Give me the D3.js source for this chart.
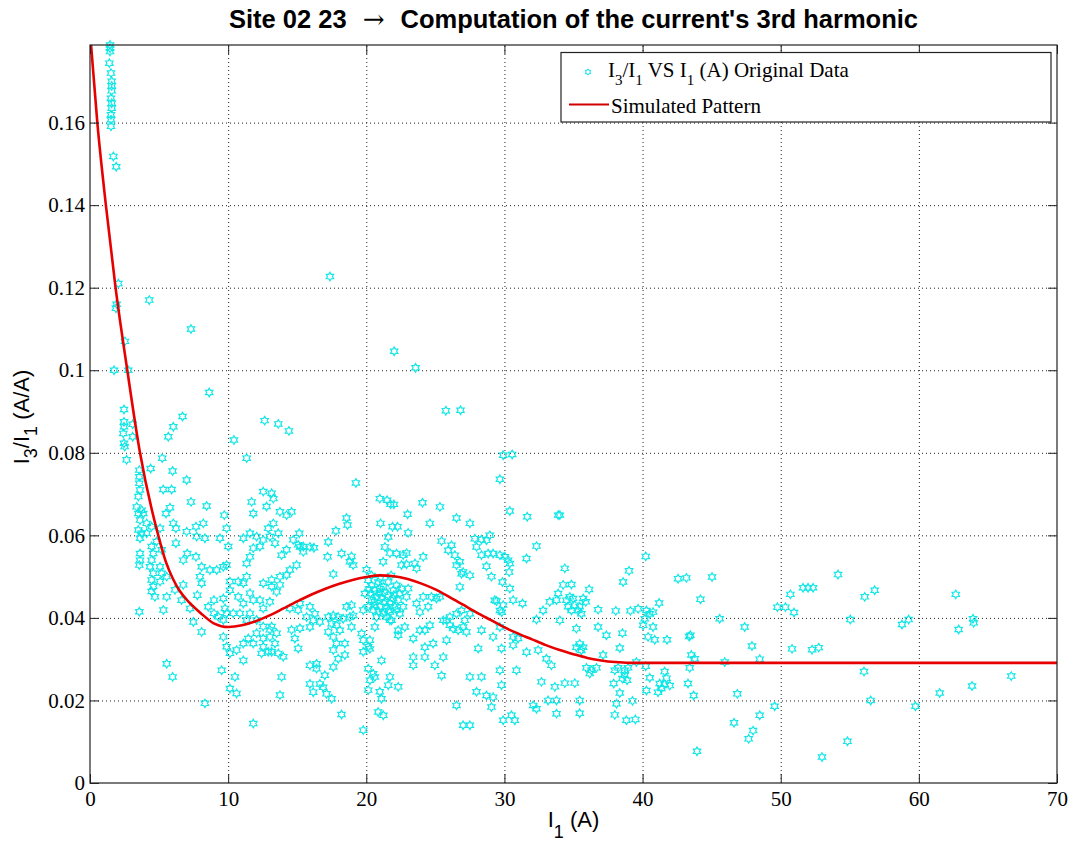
<!DOCTYPE html>
<html>
<head>
<meta charset="utf-8">
<script src="https://cdn.jsdelivr.net/npm/d3@7"></script>
<style>
  body { margin: 0; background: #fff; }
  .tick text { font-family: "Liberation Serif", "Times New Roman", serif; font-size: 21px; fill: #000; }
  .grid line { stroke: #222; stroke-dasharray: 1, 3; }
  .grid path { display: none; }
</style>
</head>
<body>
<script>
'use strict';

var margin = { top: 45, right: 14, bottom: 58, left: 90 },
  width = 1071 - margin.left - margin.right,
  height = 841 - margin.top - margin.bottom;

// axis ticks
var xTicks = [0, 10, 20, 30, 40, 50, 60, 70];
var yTicks = [0, 0.02, 0.04, 0.06, 0.08, 0.1, 0.12, 0.14, 0.16];

// simulated pattern
var patternI1 = [0, 0.53, 1.15, 1.85, 2.7, 3.62, 4.94, 5.5, 6, 6.5, 7.2, 8, 9, 9.5, 10, 11, 12, 13, 14, 15, 16, 17, 18, 19, 20, 21, 22, 23, 24, 25, 26, 27, 28, 29, 30, 31, 32, 33, 34, 35, 36, 37, 38, 39, 40, 55, 70];
var patternRatio = [0.182, 0.16, 0.14, 0.12, 0.1, 0.08, 0.06, 0.0535, 0.0495, 0.0465, 0.0437, 0.0412, 0.0386, 0.038, 0.0378, 0.0382, 0.0392, 0.0406, 0.0423, 0.044, 0.0456, 0.047, 0.0482, 0.0492, 0.0499, 0.0503, 0.0501, 0.0494, 0.0483, 0.0469, 0.0451, 0.0432, 0.0413, 0.0395, 0.0377, 0.0362, 0.0348, 0.0334, 0.0322, 0.0312, 0.0303, 0.0297, 0.0293, 0.0291, 0.0291, 0.0291, 0.0291];

// original data [I1, I3/I1], grouped by region of the plot
var dataTop = [[1.45,0.1788],[1.45,0.178],[1.45,0.1772],[1.40,0.1744],[1.52,0.172],[1.57,0.170],[1.57,0.1689],[1.57,0.1677],[1.52,0.1659],[1.57,0.1647],[1.57,0.1635],[1.52,0.1619],[1.52,0.1607],[1.52,0.1591],[1.69,0.1518],[1.90,0.1493],[2.05,0.121],[1.93,0.116],[1.88,0.115],[4.29,0.117],[7.31,0.110],[2.53,0.107],[1.74,0.100],[2.77,0.100],[8.63,0.0946],[6.7,0.0888],[17.37,0.1227],[22.02,0.1046],[23.57,0.1006],[25.76,0.0902],[26.82,0.0903],[29.91,0.0794],[30.56,0.0796],[29.67,0.0736]];

var dataLow = [[2.46,0.0905],[2.46,0.0875],[2.46,0.0863],[2.41,0.0847],[2.46,0.0823],[2.51,0.0815],[3.09,0.0869],[3.09,0.0839],[6.03,0.0863],[5.67,0.0839],[10.42,0.0831],[12.64,0.0878],[13.63,0.087],[14.4,0.0853],[2.65,0.0783],[11.34,0.0787],[5.23,0.0787],[4.39,0.0762],[5.98,0.0756],
  [3.57,0.0758],[3.57,0.0742],[3.57,0.0726],[3.62,0.0710],[3.5,0.0694],[7.0,0.0734],[5.3,0.0711],[5.91,0.0711],[3.38,0.0669],[3.5,0.0653],[3.62,0.0637],[3.74,0.0661],[7.31,0.0681],[8.44,0.0671],[5.79,0.0667],[5.5,0.0653],[3.86,0.0653],[4.1,0.0629],[9.72,0.0649],
  [3.5,0.0613],[3.74,0.0605],[3.62,0.0593],[4.1,0.0605],[4.46,0.0621],[5.07,0.0617],[6.03,0.0629],[6.22,0.0617],[7.0,0.0609],[7.67,0.0621],[8.2,0.0629],[7.72,0.0597],[8.32,0.0593],[9.89,0.0617],[9.41,0.0593],[10.01,0.0573],
  [3.62,0.0556],[3.62,0.054],[3.57,0.0528],[4.46,0.0573],[4.58,0.0556],[4.46,0.054],[4.34,0.0524],[4.58,0.0508],[4.46,0.0492],[4.58,0.0476],[4.46,0.0464],[4.7,0.0451],[4.82,0.0585],[5.19,0.0565],[5.07,0.0524],[5.19,0.0508],[5.07,0.0488],[5.55,0.05],[6.22,0.0581],[6.75,0.054],[7.04,0.0556],[7.67,0.0548],
  [8.08,0.0524],[8.68,0.0516],[9.17,0.0516],[9.65,0.0524],[9.89,0.0528],[7.96,0.05],[8.08,0.0484],[6.15,0.0468],[6.75,0.048],[5.55,0.0451],[5.31,0.0419],[3.57,0.0415],[6.63,0.0443],[7.24,0.0423],[7.48,0.039],[7.77,0.0455],[8.08,0.0366],[8.56,0.0427],[8.97,0.0443],[8.97,0.0411],[9.29,0.0403],
  [9.65,0.0447],[9.77,0.0423],[9.89,0.0411],[9.65,0.0395],[10.13,0.0467],[10.13,0.0488],[10.73,0.0488],[11.1,0.0484],[11.34,0.05],[10.73,0.0451],[11.1,0.0435],[11.58,0.046],[11.82,0.0443],[10.37,0.0411],[10.85,0.0411],[11.34,0.0395],
  [9.65,0.0354],[9.89,0.0330],[10.13,0.0314],[10.61,0.0322],[11.1,0.0297],[9.53,0.0273],[10.49,0.0257],[10.61,0.0217],[10.13,0.0229],[5.55,0.0289],[5.98,0.0257],[8.32,0.0193],[11.82,0.0144],
  [11.58,0.0411],[12.06,0.0395],[12.54,0.0379],[13.02,0.0371],[12.06,0.0363],[12.54,0.0350],[13.02,0.0354],[13.39,0.0338],[13.51,0.0363],[11.82,0.0338],[12.54,0.033],[12.9,0.0318],[13.15,0.0379],[12.42,0.0314],[13.15,0.0318],[13.63,0.0314],[13.99,0.0306],[11.46,0.035],[11.1,0.0338],
  [12.3,0.0443],[12.54,0.0423],[13.02,0.0439],[13.51,0.0463],[13.15,0.0492],[13.75,0.048],[12.54,0.0484],[13.15,0.0476],[13.75,0.05],[14.23,0.0504],[14.47,0.0423],[15.07,0.0419],[14.59,0.0371],[15.2,0.0375],[14.83,0.035],[15.07,0.0326],[13.87,0.0257],[13.75,0.0213],
  [11.7,0.0681],[11.82,0.0653],[12.54,0.0706],[13.15,0.0702],[12.78,0.067],[13.27,0.0689],[13.75,0.0657],[14.23,0.0649],[14.59,0.0657],[11.1,0.0593],[11.58,0.0605],[12.06,0.0597],[12.54,0.0589],[13.02,0.0597],[13.39,0.0581],[12.3,0.0573],[11.82,0.0569],[11.58,0.0548],[13.27,0.0629],[12.9,0.0617],[13.63,0.0605],[13.87,0.0552],[14.23,0.0565],[14.47,0.0516],[14.95,0.0528],[14.71,0.0589],[15.07,0.0577],[15.44,0.0573],[15.15,0.0605],[11.34,0.0532]];

var dataMid = [[19.25,0.0727],[20.98,0.0689],[21.51,0.0685],[21.76,0.0675],[22.0,0.0675],[24.07,0.0679],[25.33,0.0669],[18.57,0.0642],[18.64,0.0625],[22.99,0.0651],[26.53,0.0642],[27.5,0.0629],[21.03,0.0629],[24.6,0.0629],[30.39,0.0659],[31.65,0.0645],[33.89,0.0649],[17.8,0.0611],[17.25,0.0584],[15.2,0.0572],[15.44,0.056],[15.92,0.0572],[16.21,0.057],[21.9,0.0621],[22.26,0.0621],[23.03,0.0606],[21.59,0.0596],
  [21.35,0.0572],[21.71,0.0557],[22.19,0.0556],[22.67,0.0552],[22.91,0.0557],[22.55,0.0528],[22.91,0.0530],[21.22,0.0536],[17.2,0.0548],[18.21,0.0556],[18.93,0.0549],[19.05,0.0528],[18.81,0.0536],[20.02,0.0517],[17.61,0.0506],[23.52,0.0532],[23.64,0.052],[24.12,0.0548],[25.45,0.0586],[26.17,0.0576],[25.93,0.0564],[26.41,0.0552],[26.77,0.0536],[27.01,0.0511],[26.89,0.0507],[26.53,0.0528],[27.5,0.0503],[26.77,0.0475],
  [27.98,0.0572],[28.34,0.059],[28.7,0.0588],[28.94,0.06],[27.86,0.0592],[28.34,0.0552],[28.82,0.0556],[29.18,0.0556],[29.67,0.0552],[30.03,0.0548],[30.27,0.054],[30.39,0.0532],[30.34,0.0511],[28.7,0.0525],[29.06,0.05],[29.86,0.0487],[30.39,0.0471],[30.63,0.0443],[31.31,0.0435],[29.43,0.0441],[29.91,0.0431],[29.81,0.0414],[31.6,0.0544],[32.32,0.0574],[33.28,0.0439],[32.8,0.0418],[32.32,0.0396],[33.89,0.0459],[33.77,0.0443],[34.01,0.0394]];

var dataCluster = [[20.14,0.0491],[20.38,0.0479],[20.62,0.0467],[20.98,0.0459],[20.74,0.0451],[20.38,0.0443],[20.14,0.0427],[20.5,0.0419],[20.98,0.0427],[21.35,0.0439],[21.59,0.0455],[21.95,0.0467],[22.19,0.0479],[22.43,0.0459],[22.31,0.0443],[22.07,0.0427],[21.71,0.0414],[21.47,0.0402],[21.83,0.0394],[22.43,0.041],[22.67,0.0427],[22.91,0.0451],[23.03,0.0471],[19.9,0.0459],[19.78,0.0419],[20.86,0.0487],[21.23,0.0475],[21.59,0.0487],[21.23,0.041],[20.74,0.0402],[20.31,0.0459],[21.1,0.0447],[21.71,0.0435],[20.62,0.0431],[22.19,0.0419],[21.47,0.0427],[20.98,0.0471],[21.95,0.0447],[22.55,0.0471],[20.38,0.0503],[21.0,0.0495],[21.8,0.0503],[20.6,0.0440],[21.3,0.0462],[22.0,0.0455],[20.2,0.0470],[21.6,0.0418],[20.9,0.0415]];

var dataSpread = [[15.2,0.0435],[15.92,0.0427],[16.28,0.041],[15.68,0.0402],[16.16,0.0394],[16.64,0.039],[15.92,0.0378],[17.25,0.0402],[17.61,0.0406],[17.97,0.0402],[18.33,0.0398],[18.81,0.0402],[19.05,0.0406],[18.57,0.0427],[18.93,0.0431],[17.49,0.0386],[17.85,0.0382],[18.09,0.037],[17.25,0.0366],[17.61,0.0354],[18.93,0.0378],[19.66,0.0362],[19.78,0.0346],[20.14,0.033],[19.78,0.0318],[17.85,0.0338],[18.45,0.0338],[17.61,0.0322],[18.45,0.031],[17.97,0.0301],[17.61,0.0281],[16.4,0.0289],[15.92,0.0285],[16.4,0.0277],[17.0,0.0261],[16.64,0.024],[16.88,0.0232],[17.12,0.0216],[17.49,0.0204],[16.16,0.022],[15.92,0.024],[18.21,0.0166],[19.78,0.0128],
  [20.14,0.0277],[20.5,0.0265],[20.26,0.0249],[20.62,0.0257],[20.14,0.0225],[21.1,0.0297],[21.71,0.0257],[21.59,0.0237],[22.31,0.0233],[20.98,0.0221],[21.1,0.0204],[20.86,0.0172],[21.23,0.0164],[20.26,0.0346],[20.26,0.0325],[20.62,0.0378],[21.71,0.0394],[22.31,0.037],[22.79,0.0378],[22.31,0.0358],[23.4,0.035],[23.88,0.037],[24.24,0.037],[24.6,0.0382],[24.24,0.0329],[24.84,0.0338],[23.4,0.0305],[23.4,0.0285],[24.24,0.0305],[24.96,0.0285],[25.57,0.0305],[25.45,0.026],
  [23.64,0.0435],[23.88,0.0414],[24.48,0.0427],[24.12,0.0451],[24.72,0.0451],[25.08,0.0447],[25.33,0.0451],[25.81,0.0394],[26.05,0.0382],[26.29,0.0374],[26.65,0.037],[27.01,0.0378],[27.25,0.0366],[26.53,0.041],[26.89,0.0418],[26.05,0.0402],[25.57,0.0394],[27.13,0.0394],[27.5,0.041],[25.81,0.0346],[28.1,0.0326],[27.5,0.0257],[28.34,0.0257],[27.98,0.0221],[28.7,0.0212],[29.18,0.0208],[29.06,0.0184],[26.53,0.0188],[27.01,0.014],[27.5,0.014],
  [28.34,0.037],[29.18,0.0354],[29.67,0.0378],[29.79,0.0326],[29.3,0.0443],[29.67,0.0418],[29.67,0.0273],[29.79,0.0237],[29.91,0.0152],[30.51,0.0164],[30.75,0.0152],[30.63,0.0354],[30.99,0.035],[30.63,0.0334],[31.6,0.0317],[32.44,0.0322],[33.04,0.0301],[33.4,0.0285],[30.87,0.0273],[32.68,0.0245],[32.08,0.0188],[32.32,0.018],[33.16,0.02],[33.77,0.0168],[33.77,0.02],[33.65,0.0233]];

var dataHigh = [[34.01,0.0649],[34.37,0.052],[34.25,0.048],[34.85,0.0481],[34.49,0.0443],[34.73,0.0451],[34.97,0.0447],[34.61,0.0427],[35.09,0.0431],[35.45,0.0427],[35.7,0.0447],[35.33,0.0418],[35.57,0.041],[34.85,0.0418],[36.13,0.0469],[35.89,0.0439],[36.78,0.042],[38.06,0.0417],[38.59,0.0487],[39.02,0.0514],[39.12,0.0417],[39.68,0.0422],[35.21,0.0374],[35.45,0.0337],[35.21,0.0329],[35.7,0.0329],[35.57,0.0321],[36.78,0.0378],[37.38,0.0358],[38.54,0.0363],[38.35,0.0327],[37.14,0.031],
  [35.94,0.0279],[36.3,0.0273],[36.18,0.0265],[36.66,0.0279],[37.99,0.0273],[38.23,0.0279],[38.71,0.0273],[38.95,0.0279],[38.71,0.0261],[38.88,0.0249],[38.54,0.0253],[37.91,0.0241],[38.35,0.0218],[38.11,0.0192],[37.99,0.0165],[39.27,0.0199],[38.83,0.0152],[39.48,0.0154],[35.45,0.02],[35.45,0.0169],[35.09,0.0242],[34.37,0.0242],[39.55,0.0293],
  [40.23,0.0549],[40.28,0.0418],[40.52,0.041],[40.76,0.0414],[40.16,0.0398],[40.04,0.0382],[40.76,0.0378],[40.4,0.0354],[40.88,0.0347],[41.77,0.0347],[41.2,0.0436],[42.57,0.0495],[43.17,0.0497],[45.03,0.0499],[44.19,0.0445],[45.58,0.0398],[43.37,0.0355],[43.46,0.0358],[43.53,0.031],[43.78,0.0301],[43.41,0.0279],[40.23,0.0283],[40.52,0.0255],[40.28,0.0224],[41.12,0.022],[41.36,0.0229],[41.6,0.0239],[41.97,0.0236],[41.73,0.0254],[41.6,0.027],[41.24,0.0241],[43.29,0.0241],[43.7,0.0212],[43.94,0.0077],
  [45.95,0.0293],[47.39,0.0378],[47.92,0.0332],[48.48,0.03],[46.86,0.0216],[46.62,0.0146],[48.0,0.0127],[47.68,0.0107],[48.48,0.0164],[49.56,0.0186],[49.76,0.0426],[50.34,0.0426],[50.96,0.0413],[50.7,0.0457],[50.82,0.0325],
  [51.62,0.0473],[51.98,0.0473],[52.34,0.0473],[54.15,0.0505],[56.08,0.0451],[56.8,0.0467],[55.04,0.0396],[58.78,0.0384],[59.26,0.0396],[52.27,0.0323],[52.75,0.0328],[56.03,0.027],[56.51,0.02],[54.83,0.0101],[52.99,0.0063],[59.75,0.0186],[61.51,0.0218],[62.67,0.0457],[62.88,0.0372],[63.92,0.0398],[63.97,0.0388],[63.85,0.0235],[66.69,0.0259]];

var measured = dataTop.concat(dataLow, dataMid, dataCluster, dataSpread, dataHigh);
var pattern = patternI1.map(function (d, i) { return [d, patternRatio[i]]; });

// MATLAB style hexagram marker
var hexagram = {
  draw: function (context, size) {
    var r = Math.sqrt(size) / 2, ri = r / Math.sqrt(3);
    for (var k = 0; k < 12; k++) {
      var a = Math.PI / 6 * k - Math.PI / 2, rr = k % 2 ? ri : r;
      if (k == 0) context.moveTo(rr * Math.cos(a), rr * Math.sin(a));
      else context.lineTo(rr * Math.cos(a), rr * Math.sin(a));
    }
    context.closePath();
  }
};

var x = d3.scaleLinear().domain([0, 70]).range([0, width]);
var y = d3.scaleLinear().domain([0, 0.1788]).range([height, 0]);

var svg = d3.select("body").append("svg")
  .attr("width", 1071)
  .attr("height", 841)
  .style("display", "block");

var g = svg.append("g")
  .attr("transform", "translate(" + margin.left + "," + margin.top + ")");

g.append("clipPath").attr("id", "plot-clip")
  .append("rect").attr("width", width).attr("height", height);

// dotted grid
g.append("g").attr("class", "grid")
  .attr("transform", "translate(0," + height + ")")
  .call(d3.axisBottom(x).tickValues(xTicks.slice(1, -1)).tickSize(-height).tickFormat(""));
g.append("g").attr("class", "grid")
  .call(d3.axisLeft(y).tickValues(yTicks.slice(1)).tickSize(-width).tickFormat(""));

// data points
g.append("g").selectAll("path")
  .data(measured)
  .enter().append("path")
  .attr("transform", function (d) { return "translate(" + x(d[0]) + "," + y(d[1]) + ")"; })
  .attr("d", d3.symbol().type(hexagram).size(74))
  .attr("fill", "none")
  .attr("stroke", "#12e6e6")
  .attr("stroke-width", 1.15);

// simulated pattern
g.append("path")
  .datum(pattern)
  .attr("clip-path", "url(#plot-clip)")
  .attr("fill", "none")
  .attr("stroke", "#e60000")
  .attr("stroke-width", 2.6)
  .attr("d", d3.line()
    .x(function (d) { return x(d[0]); })
    .y(function (d) { return y(d[1]); })
    .curve(d3.curveMonotoneX));

// axes, ticks inside on all four sides
var fmt = function (d) { return String(+d.toFixed(2)); };
g.append("g").attr("transform", "translate(0," + height + ")")
  .call(d3.axisBottom(x).tickValues(xTicks).tickSize(-9).tickSizeOuter(0).tickPadding(8));
g.append("g")
  .call(d3.axisLeft(y).tickValues(yTicks).tickSize(-9).tickSizeOuter(0).tickPadding(5).tickFormat(fmt));
g.append("g")
  .call(d3.axisTop(x).tickValues(xTicks).tickSize(-9).tickSizeOuter(0).tickFormat(""));
g.append("g").attr("transform", "translate(" + width + ",0)")
  .call(d3.axisRight(y).tickValues(yTicks).tickSize(-9).tickSizeOuter(0).tickFormat(""));
g.selectAll(".domain").remove();
g.selectAll(".tick line").filter(function () { return !this.parentNode.parentNode.classList.contains("grid"); })
  .attr("stroke", "#222");

g.append("rect")
  .attr("width", width)
  .attr("height", height)
  .attr("fill", "none")
  .attr("stroke", "#222")
  .attr("stroke-width", 1.2);

// title
var title = svg.append("text")
  .attr("x", margin.left + width / 2)
  .attr("y", 28)
  .attr("text-anchor", "middle")
  .style("font-family", "'Liberation Sans', Arial, sans-serif")
  .style("font-size", "25.5px")
  .style("font-weight", "bold");
title.append("tspan").text("Site 02 23");
title.append("tspan").attr("dx", 16)
  .style("font-family", "'DejaVu Serif', serif").style("font-weight", "normal").style("font-size", "26px")
  .text("\u2192");
title.append("tspan").attr("dx", 16).text("Computation of the current's 3rd harmonic");

// axis labels
var xLabel = svg.append("text")
  .attr("x", margin.left + width / 2)
  .attr("y", 827)
  .attr("text-anchor", "middle")
  .style("font-family", "'Liberation Sans', Arial, sans-serif")
  .style("font-size", "22px");
xLabel.append("tspan").text("I");
xLabel.append("tspan").attr("dy", 11).style("font-size", "18px").text("1");
xLabel.append("tspan").attr("dy", -11).text(" (A)");

var yLabel = svg.append("text")
  .attr("transform", "translate(29," + (margin.top + height / 2 + 3) + ") rotate(-90)")
  .attr("text-anchor", "middle")
  .style("font-family", "'Liberation Sans', Arial, sans-serif")
  .style("font-size", "22px");
yLabel.append("tspan").text("I");
yLabel.append("tspan").attr("dy", 8).style("font-size", "18px").text("3");
yLabel.append("tspan").attr("dy", -8).text("/I");
yLabel.append("tspan").attr("dy", 8).style("font-size", "18px").text("1");
yLabel.append("tspan").attr("dy", -8).text(" (A/A)");

// legend
var legend = svg.append("g").attr("transform", "translate(561,52.5)");
legend.append("rect")
  .attr("width", 490)
  .attr("height", 69.5)
  .attr("fill", "#fff")
  .attr("stroke", "#222")
  .attr("stroke-width", 1.2);
legend.append("path")
  .attr("transform", "translate(27,19.5)")
  .attr("d", d3.symbol().type(hexagram).size(40))
  .attr("fill", "none")
  .attr("stroke", "#12e6e6");
var lt = legend.append("text")
  .attr("x", 47)
  .attr("y", 24.5)
  .style("font-family", "'Liberation Serif', 'Times New Roman', serif")
  .style("font-size", "21px");
lt.append("tspan").text("I");
lt.append("tspan").attr("dy", 8).style("font-size", "15px").text("3");
lt.append("tspan").attr("dy", -8).text("/I");
lt.append("tspan").attr("dy", 8).style("font-size", "15px").text("1");
lt.append("tspan").attr("dy", -8).text(" VS I");
lt.append("tspan").attr("dy", 8).style("font-size", "15px").text("1");
lt.append("tspan").attr("dy", -8).text(" (A) Original Data");
legend.append("line")
  .attr("x1", 8).attr("x2", 48)
  .attr("y1", 52).attr("y2", 52)
  .attr("stroke", "#d00000")
  .attr("stroke-width", 2);
legend.append("text")
  .attr("x", 50)
  .attr("y", 60.5)
  .style("font-family", "'Liberation Serif', 'Times New Roman', serif")
  .style("font-size", "21px")
  .text("Simulated Pattern");
</script>
</body>
</html>
